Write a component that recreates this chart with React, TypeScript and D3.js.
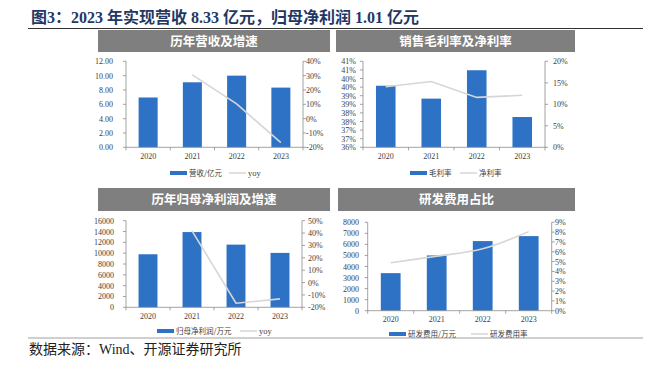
import React from "react";
import * as d3 from "d3";

const years = ["2020", "2021", "2022", "2023"];
const revenue = [6.95, 9.07, 10.0, 8.33];
const revenueYoy: (number | null)[] = [null, 30.5, 10.3, -16.7];
const grossMargin = [39.58, 38.83, 40.48, 37.76];
const netMargin = [14.1, 15.3, 11.6, 12.1];
const netProfit = [9800, 13900, 11580, 10050];
const netProfitYoy: (number | null)[] = [null, 41.8, -16.7, -13.2];
const rdExpense = [3400, 5000, 6300, 6750];
const rdRatio = [4.89, 5.55, 6.3, 8.05];

const revTicks = [0, 2, 4, 6, 8, 10, 12];
const revYoyTicks = [-20, -10, 0, 10, 20, 30, 40];
const gmTicks = [36, 36.5, 37, 37.5, 38, 38.5, 39, 39.5, 40, 40.5, 41];
const nmTicks = [0, 5, 10, 15, 20];
const npTicks = [0, 2000, 4000, 6000, 8000, 10000, 12000, 14000, 16000];
const npYoyTicks = [-20, -10, 0, 10, 20, 30, 40, 50];
const rdTicks = [0, 1000, 2000, 3000, 4000, 5000, 6000, 7000, 8000];
const rdRatioTicks = [0, 1, 2, 3, 4, 5, 6, 7, 8, 9];

const titleText = "图3：2023 年实现营收 8.33 亿元，归母净利润 1.01 亿元";
const sourceText = "数据来源：Wind、开源证券研究所";

const BAR = "#2E72C5";
const LINE = "#D6D6D6";
const AXIS = "#8C8C8C";
const TXT = "#404040";
const SERIF = "'Liberation Serif', 'Times New Roman', serif";
const CJK = "'Noto Sans CJK SC', sans-serif";

type PanelCfg = {
  title: string;
  hx0: number; hx1: number; hy0: number; hy1: number;
  left: number; right: number; top: number; bottom: number;
  bars: number[]; line: (number | null)[];
  lTicks: number[]; rTicks: number[];
  lFmt: (v: number) => string; rFmt: (v: number) => string;
  lLabelEnd: number; rLabelStart: number;
  xLabelY: number; legendY: number;
  barName: string; lineName: string; legendX: number; lineLegendX: number;
  smooth?: boolean;
};

function Panel({ c }: { c: PanelCfg }) {
  const x = d3.scaleBand<string>().domain(years).range([c.left, c.right]).paddingInner(0.57).paddingOuter(0.285);
  const yl = d3.scaleLinear().domain([c.lTicks[0], c.lTicks[c.lTicks.length - 1]]).range([c.bottom, c.top]);
  const yr = d3.scaleLinear().domain([c.rTicks[0], c.rTicks[c.rTicks.length - 1]]).range([c.bottom, c.top]);
  const pts = years.map((y, i) => ({ y, v: c.line[i] }));
  const lineGen = d3.line<{ y: string; v: number | null }>()
    .defined(d => d.v !== null)
    .x(d => (x(d.y) as number) + x.bandwidth() / 2)
    .y(d => yr(d.v as number))
    .curve(c.smooth ? d3.curveCatmullRom.alpha(0.5) : d3.curveLinear);
  const step = x.step();
  const boundaries = d3.range(years.length + 1).map(i => c.left + i * step);
  return (
    <g>
      <rect x={c.hx0} y={c.hy0} width={c.hx1 - c.hx0} height={c.hy1 - c.hy0} fill="#7F7F7F" />
      <text x={(c.hx0 + c.hx1) / 2} y={(c.hy0 + c.hy1) / 2 + 4.5} textAnchor="middle" fill="#fff" fontFamily={CJK} fontWeight="bold" fontSize={12.5}>{c.title}</text>
      {years.map((y, i) => (
        <rect key={y} x={x(y)} y={yl(c.bars[i])} width={x.bandwidth()} height={c.bottom - yl(c.bars[i])} fill={BAR} />
      ))}
      <path d={lineGen(pts) || ""} fill="none" stroke={LINE} strokeWidth={1.6} />
      <line x1={c.left} x2={c.left} y1={c.top} y2={c.bottom} stroke={AXIS} strokeWidth={0.8} />
      <line x1={c.right} x2={c.right} y1={c.top} y2={c.bottom} stroke={AXIS} strokeWidth={0.8} />
      <line x1={c.left} x2={c.right} y1={c.bottom} y2={c.bottom} stroke={AXIS} strokeWidth={0.8} />
      {boundaries.map((b, i) => (
        <line key={i} x1={b} x2={b} y1={c.bottom} y2={c.bottom + 3} stroke={AXIS} strokeWidth={0.8} />
      ))}
      {c.lTicks.map((t, i) => (
        <g key={i}>
          <line x1={c.left - 3} x2={c.left} y1={yl(t)} y2={yl(t)} stroke={AXIS} strokeWidth={0.8} />
          <text x={c.lLabelEnd} y={yl(t) + 3} textAnchor="end" fontFamily={SERIF} fontSize={8} fill={TXT}>{c.lFmt(t)}</text>
        </g>
      ))}
      {c.rTicks.map((t, i) => (
        <g key={i}>
          <line x1={c.right} x2={c.right + 3} y1={yr(t)} y2={yr(t)} stroke={AXIS} strokeWidth={0.8} />
          <text x={c.rLabelStart} y={yr(t) + 3} textAnchor="start" fontFamily={SERIF} fontSize={8} fill={TXT}>{c.rFmt(t)}</text>
        </g>
      ))}
      {years.map(y => (
        <text key={y} x={(x(y) as number) + x.bandwidth() / 2} y={c.xLabelY} textAnchor="middle" fontFamily={SERIF} fontSize={8} fill={TXT}>{y}</text>
      ))}
      <rect x={c.legendX} y={c.legendY - 2} width={17} height={4} fill={BAR} />
      <text x={c.legendX + 19} y={c.legendY + 3} fontFamily={CJK} fontSize={7.5} fill={TXT}>{c.barName}</text>
      <line x1={c.lineLegendX} x2={c.lineLegendX + 17} y1={c.legendY} y2={c.legendY} stroke={LINE} strokeWidth={1.5} />
      <text x={c.lineLegendX + 19} y={c.legendY + 3} fontFamily={c.lineName === "yoy" ? SERIF : CJK} fontSize={c.lineName === "yoy" ? 8.5 : 7.5} fill={TXT}>{c.lineName}</text>
    </g>
  );
}

const pct0 = (v: number) => `${Math.round(v)}%`;

const panels: PanelCfg[] = [
  {
    title: "历年营收及增速", hx0: 98, hx1: 330, hy0: 30, hy1: 52,
    left: 126, right: 303, top: 61.3, bottom: 147.3,
    bars: revenue, line: revenueYoy, lTicks: revTicks, rTicks: revYoyTicks,
    lFmt: v => v.toFixed(2), rFmt: pct0, lLabelEnd: 113, rLabelStart: 306,
    xLabelY: 159, legendY: 173, barName: "营收/亿元", lineName: "yoy", legendX: 170, lineLegendX: 229,
  },
  {
    title: "销售毛利率及净利率", hx0: 336, hx1: 575, hy0: 30, hy1: 52,
    left: 363, right: 545, top: 61.3, bottom: 147.3,
    bars: grossMargin, line: netMargin, lTicks: gmTicks, rTicks: nmTicks,
    lFmt: pct0, rFmt: pct0, lLabelEnd: 356, rLabelStart: 553,
    xLabelY: 159, legendY: 173, barName: "毛利率", lineName: "净利率", legendX: 410, lineLegendX: 460,
  },
  {
    title: "历年归母净利润及增速", hx0: 98, hx1: 330, hy0: 188, hy1: 211,
    left: 126, right: 302, top: 220.7, bottom: 307.3,
    bars: netProfit, line: netProfitYoy, lTicks: npTicks, rTicks: npYoyTicks,
    lFmt: v => String(v), rFmt: pct0, lLabelEnd: 114, rLabelStart: 308,
    xLabelY: 319, legendY: 331, barName: "归母净利润/万元", lineName: "yoy", legendX: 157, lineLegendX: 240,
  },
  {
    title: "研发费用占比", hx0: 338, hx1: 575, hy0: 188, hy1: 211,
    left: 367.7, right: 551.7, top: 222.3, bottom: 310.7,
    bars: rdExpense, line: rdRatio, lTicks: rdTicks, rTicks: rdRatioTicks,
    lFmt: v => String(v), rFmt: pct0, lLabelEnd: 359, rLabelStart: 555,
    xLabelY: 321.5, legendY: 334, barName: "研发费用/万元", lineName: "研发费用率", legendX: 389, lineLegendX: 471,
    smooth: true,
  },
];

export default function App() {
  return (
    <svg width={656} height={367} style={{ position: "absolute", left: 0, top: 0, background: "#fff" }}>
      <rect width={656} height={367} fill="#fff" />
      <text x={31} y={23} fontFamily={`${SERIF.split(",")[0]}, 'Noto Sans CJK SC'`} fontWeight="bold" fontSize={16} fill="#1F3864">{titleText}</text>
      <line x1={28} x2={643} y1={28.5} y2={28.5} stroke="#333" strokeWidth={1.2} />
      {panels.map((p, i) => <Panel key={i} c={p} />)}
      <line x1={28} x2={643} y1={338} y2={338} stroke="#888" strokeWidth={0.8} />
      <text x={29} y={354} fontFamily={`${SERIF.split(",")[0]}, 'Noto Sans CJK SC'`} fontSize={14} fill="#222">{sourceText}</text>
    </svg>
  );
}
